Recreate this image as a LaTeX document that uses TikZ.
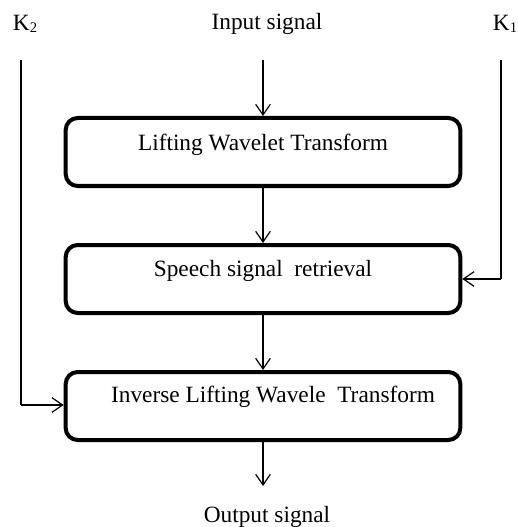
\documentclass[tikz,border=0pt]{standalone}
\usepackage{fontspec}
\setmainfont{Liberation Serif}
\usetikzlibrary{arrows.meta}
\newcommand{\mysub}[1]{\raisebox{-0.2ex}{\fontsize{11}{12}\selectfont #1}}
\begin{document}
\begin{tikzpicture}[x=0.75pt,y=-0.75pt,
  box/.style={draw,line width=3pt,rounded corners=9pt,minimum width=296pt,minimum height=51pt,inner sep=0pt},
  lbl/.style={font=\fontsize{17.5}{20}\selectfont,inner sep=0pt},
  conn/.style={line width=0.9pt,-{Straight Barb[length=8pt,width=11pt,line width=0.9pt]}},
  wire/.style={line width=0.9pt}]
\useasboundingbox (0,0) rectangle (517,527);
% boxes
\node[box] (b1) at (263,152) {};
\node[box] (b2) at (263,279) {};
\node[box] (b3) at (263,406) {};
\node[lbl] (t1) at (263,145) {Lifting Wavelet Transform};
\node[lbl] (t2) at (263,271) {Speech signal\ \ retrieval};
\node[lbl] (t3) at (273,397) {Inverse\ Lifting Wavele\ \ Transform};
% labels
\node[lbl] (in) at (267,24) {Input signal};
\node[lbl] (k2) at (25,24) {K\mysub{2}};
\node[lbl] (k1) at (505,24) {K\mysub{1}};
\node[lbl] (out) at (267,517) {Output signal};
% coordinates
\coordinate (inS) at (263,60);
\coordinate (k2S) at (21,60);
\coordinate (k2C) at (21,405);
\coordinate (k1S) at (501,60);
\coordinate (k1C) at (501,279);
\coordinate (outE) at (263,486);
% connectors
\draw[conn] (inS) -- (b1.north);
\draw[conn] (b1.south) -- (b2.north);
\draw[conn] (b2.south) -- (b3.north);
\draw[conn] (b3.south) -- (outE);
\draw[wire] (k2S) -- (k2C);
\draw[conn] (k2C) -- (b3.west |- k2C);
\draw[wire] (k1S) -- (k1C);
\draw[conn] (k1C) -- (b2.east |- k1C);
\end{tikzpicture}
\end{document}
